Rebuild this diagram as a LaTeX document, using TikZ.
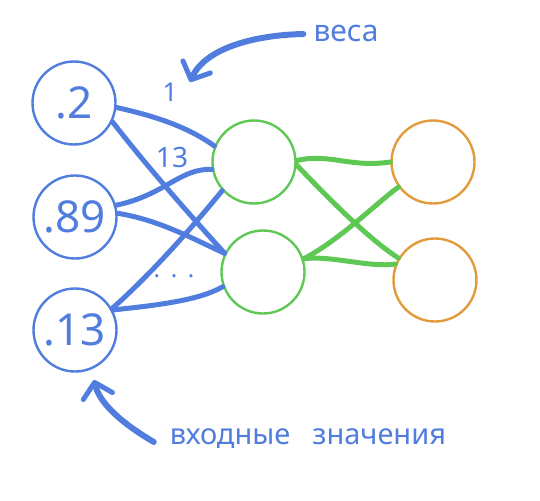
\documentclass[tikz,border=0pt]{standalone}
\usepackage{fontspec}
\setmainfont{Noto Sans}
\usetikzlibrary{arrows.meta}
\definecolor{blueink}{RGB}{80,125,222}
\definecolor{greenink}{RGB}{95,200,85}
\definecolor{orangeink}{RGB}{226,155,60}
\tikzset{
  neuron/.style={circle,draw,line width=2.4pt,minimum size=83pt,inner sep=0pt},
  inp/.style={neuron,draw=blueink,text=blueink,font=\fontsize{44}{48}\selectfont},
  hid/.style={neuron,draw=greenink},
  outp/.style={neuron,draw=orangeink},
  lbl/.style={text=blueink,inner sep=0pt},
  bwire/.style={draw=blueink,line width=5pt,line cap=round},
  gwire/.style={draw=greenink,line width=5pt,line cap=round},
  hint/.style={draw=blueink,line width=6pt,line cap=round,
    -{Straight Barb[length=14pt,width=30pt,line width=5pt,round]}},
}
\begin{document}
\begin{tikzpicture}[x=1pt,y=-1pt]
  \useasboundingbox (0,0) rectangle (540,500);
  % neurons
  \node[inp] (i1) at (74,103) {.2};
  \node[inp] (i2) at (75,217) {.89};
  \node[inp] (i3) at (75,330) {.13};
  \node[hid] (h1) at (254,162) {};
  \node[hid] (h2) at (263,272) {};
  \node[outp] (o1) at (433,162) {};
  \node[outp] (o2) at (435,280) {};
  % labels
  \node[lbl,font=\fontsize{30}{34}\selectfont] (wlabel) at (346,33) {веса};
  \node[lbl,font=\fontsize{29}{34}\selectfont] (inlabel) at (308,439) {входные\hspace{0.5em} значения};
  \node[lbl,font=\fontsize{26}{30}\selectfont] (w1) at (170,92) {1};
  \node[lbl,font=\fontsize{28}{32}\selectfont] (w13) at (172,158) {13};
  \node[lbl,font=\fontsize{24}{28}\selectfont] (dots) at (174,276) {.\hspace{0.45em}.\hspace{0.45em}.};
  \coordinate (wtip) at (190,82);
  \coordinate (intip) at (94,380);
  % input -> hidden
  \draw[bwire] (i1.-6) .. controls (150,115) and (185,125) .. (h1.158);
  \draw[bwire] (i1.-26) .. controls (150,170) and (190,215) .. (h2.154);
  \draw[bwire] (i2.16) .. controls (165,195) and (180,168) .. (h1.190);
  \draw[bwire] (i2.5) .. controls (160,220) and (195,240) .. (h2.154);
  \draw[bwire] (i3.30) .. controls (150,275) and (190,230) .. (h1.222);
  \draw[bwire] (i3.28) .. controls (160,305) and (200,300) .. (h2.200);
  % hidden -> output
  \draw[gwire] (h1.2) .. controls (330,153) and (350,168) .. (o1.180);
  \draw[gwire] (h1.-4) .. controls (330,200) and (370,240) .. (o2.149);
  \draw[gwire] (h2.18) .. controls (340,240) and (380,200) .. (o1.216);
  \draw[gwire] (h2.18) .. controls (330,255) and (370,268) .. (o2.158);
  % hints
  \draw[hint] (wlabel.west) ++(-10,1) .. controls (255,35) and (205,48) .. (wtip);
  \draw[hint] (inlabel.west) ++(-16,3) .. controls (125,425) and (100,405) .. (intip);
\end{tikzpicture}
\end{document}
